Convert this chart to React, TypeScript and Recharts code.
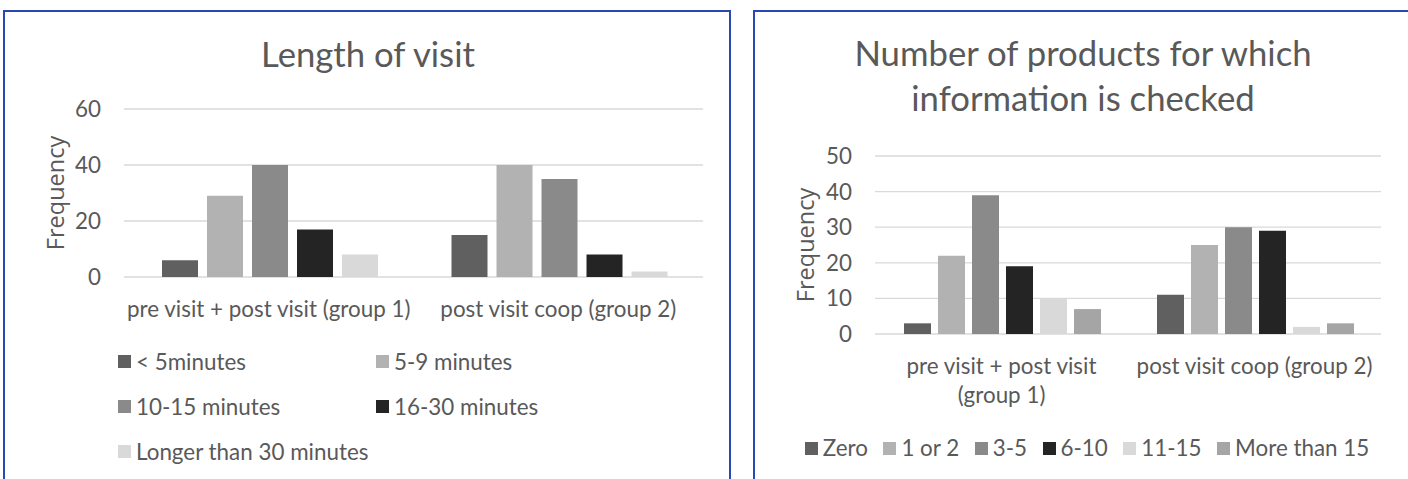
import React from 'react';
import { BarChart, Bar, XAxis, YAxis, CartesianGrid } from 'recharts';

const visitGroups = ['pre visit + post visit (group 1)', 'post visit coop (group 2)'];
const visitSeries = ['< 5minutes', '5-9 minutes', '10-15 minutes', '16-30 minutes', 'Longer than 30 minutes'];
const visitUnder5 = [6, 15];
const visit5to9 = [29, 40];
const visit10to15 = [40, 35];
const visit16to30 = [17, 8];
const visitOver30 = [8, 2];
const visitTicks = [0, 20, 40, 60];

const productGroups = ['pre visit + post visit (group 1)', 'post visit coop (group 2)'];
const productSeries = ['Zero', '1 or 2', '3-5', '6-10', '11-15', 'More than 15'];
const productZero = [3, 11];
const product1or2 = [22, 25];
const product3to5 = [39, 30];
const product6to10 = [19, 29];
const product11to15 = [10, 2];
const productOver15 = [7, 3];
const productTicks = [0, 10, 20, 30, 40, 50];

const visitColors = ['#606060', '#b2b2b2', '#8a8a8a', '#242424', '#d9d9d9'];
const productColors = ['#606060', '#b2b2b2', '#8a8a8a', '#242424', '#d9d9d9', '#a5a5a5'];

const visitValues = [visitUnder5, visit5to9, visit10to15, visit16to30, visitOver30];
const productValues = [productZero, product1or2, product3to5, product6to10, product11to15, productOver15];

const visitData = visitGroups.map((g, i) => {
  const row: any = { group: g };
  visitSeries.forEach((s, k) => { row[s] = visitValues[k][i]; });
  return row;
});
const productData = productGroups.map((g, i) => {
  const row: any = { group: g };
  productSeries.forEach((s, k) => { row[s] = productValues[k][i]; });
  return row;
});

const FONT = 'Lato, "Liberation Sans", sans-serif';
const FS = 22.4;
const TXT = '#595959';
const BORDER = '#2b46b5';

let measureCtx: CanvasRenderingContext2D | null = null;
function measure(s: string): number {
  if (typeof document === 'undefined') return s.length * FS * 0.45;
  if (!measureCtx) measureCtx = document.createElement('canvas').getContext('2d');
  if (!measureCtx) return s.length * FS * 0.45;
  measureCtx.font = `${FS}px ${FONT}`;
  return measureCtx.measureText(s).width;
}
function wrap(s: string, maxW: number): string[] {
  const words = s.split(' ');
  const lines: string[] = [];
  let cur = '';
  for (const w of words) {
    const next = cur ? cur + ' ' + w : w;
    if (cur && measure(next) > maxW) {
      lines.push(cur);
      cur = w;
    } else {
      cur = next;
    }
  }
  if (cur) lines.push(cur);
  return lines;
}

const CategoryTick = (props: any) => {
  const { x, y, payload, wrapWidth } = props;
  const lines = wrap(String(payload.value), wrapWidth);
  return (
    <text x={x} y={y} textAnchor="middle" fill={TXT} fontSize={FS} fontFamily={FONT}>
      {lines.map((l, i) => (
        <tspan key={i} x={x} dy={i === 0 ? '0.71em' : 29}>{l}</tspan>
      ))}
    </text>
  );
};

const freqLabel = (dx: number) => (p: any) => {
  const vb = p.viewBox;
  const cx = vb.x + dx;
  const cy = vb.y + vb.height / 2;
  return (
    <text x={cx} y={cy} transform={`rotate(-90 ${cx} ${cy})`} textAnchor="middle" dominantBaseline="central"
      fill={TXT} fontSize={23.5} fontFamily='"Open Sans", sans-serif'>Frequency</text>
  );
};

const Swatch = ({ color }: { color: string }) => (
  <span style={{ display: 'inline-block', width: 13, height: 13, background: color, marginRight: 5 }} />
);

export default function App() {
  return (
    <div style={{ position: 'absolute', left: 0, top: 0, width: 1408, height: 479, background: '#fff', overflow: 'hidden', fontFamily: FONT, color: TXT }}>
      {/* left box */}
      <div style={{ position: 'absolute', left: 3, top: 10, width: 728, height: 520, border: `2px solid ${BORDER}`, boxSizing: 'border-box' }} />
      <div style={{ position: 'absolute', left: 4, width: 728, top: 36, textAlign: 'center', fontSize: 34.7, lineHeight: '35px' }}>Length of visit</div>
      <div style={{ position: 'absolute', left: 0, top: 0 }}>
        <BarChart width={735} height={479} data={visitData} margin={{ top: 109, right: 32, bottom: 172, left: 64 }}
          barCategoryGap={38} barGap={9}>
          <CartesianGrid vertical={false} stroke="#d9d9d9" strokeWidth={1.3} />
          <XAxis dataKey="group" axisLine={false} tickLine={false} tickSize={0} tickMargin={24} height={30}
            interval={0} tick={<CategoryTick wrapWidth={1000} />} />
          <YAxis domain={[0, 60]} ticks={visitTicks} width={60} axisLine={false} tickLine={false} tickSize={0} tickMargin={23}
            tick={{ fill: TXT, fontSize: FS, fontFamily: FONT }} label={{ content: freqLabel(-9) } as any} />
          {visitSeries.map((s, k) => (
            <Bar key={s} dataKey={s} fill={visitColors[k]} isAnimationActive={false} />
          ))}
        </BarChart>
      </div>
      <div style={{ position: 'absolute', left: 118, top: 339, width: 560, display: 'grid', gridTemplateColumns: '258px 258px', rowGap: 0, fontSize: FS }}>
        {visitSeries.map((s, k) => (
          <div key={s} style={{ height: 45, display: 'flex', alignItems: 'center', lineHeight: '32px', whiteSpace: 'nowrap' }}>
            <Swatch color={visitColors[k]} />{s}
          </div>
        ))}
      </div>

      {/* right box */}
      <div style={{ position: 'absolute', left: 753, top: 10, width: 700, height: 520, border: `2px solid ${BORDER}`, boxSizing: 'border-box' }} />
      <div style={{ position: 'absolute', left: 754, width: 658, top: 30, textAlign: 'center', fontSize: 34.7, lineHeight: '45px' }}>
        Number of products for which<br />information is checked
      </div>
      <div style={{ position: 'absolute', left: 754, top: 0 }}>
        <BarChart width={654} height={479} data={productData} margin={{ top: 156, right: 27, bottom: 115, left: 61 }}
          barCategoryGap={29} barGap={7}>
          <CartesianGrid vertical={false} stroke="#d9d9d9" strokeWidth={1.3} />
          <XAxis dataKey="group" axisLine={false} tickLine={false} tickSize={0} tickMargin={24} height={30}
            interval={0} tick={<CategoryTick wrapWidth={245} />} />
          <YAxis domain={[0, 50]} ticks={productTicks} width={60} axisLine={false} tickLine={false} tickSize={0} tickMargin={23}
            tick={{ fill: TXT, fontSize: FS, fontFamily: FONT }} label={{ content: freqLabel(-10) } as any} />
          {productSeries.map((s, k) => (
            <Bar key={s} dataKey={s} fill={productColors[k]} isAnimationActive={false} />
          ))}
        </BarChart>
      </div>
      <div style={{ position: 'absolute', left: 758, width: 658, top: 432, display: 'flex', justifyContent: 'center', gap: 15.5, fontSize: FS, lineHeight: '32px' }}>
        {productSeries.map((s, k) => (
          <div key={s} style={{ display: 'flex', alignItems: 'center', whiteSpace: 'nowrap' }}>
            <Swatch color={productColors[k]} />{s}
          </div>
        ))}
      </div>
    </div>
  );
}
